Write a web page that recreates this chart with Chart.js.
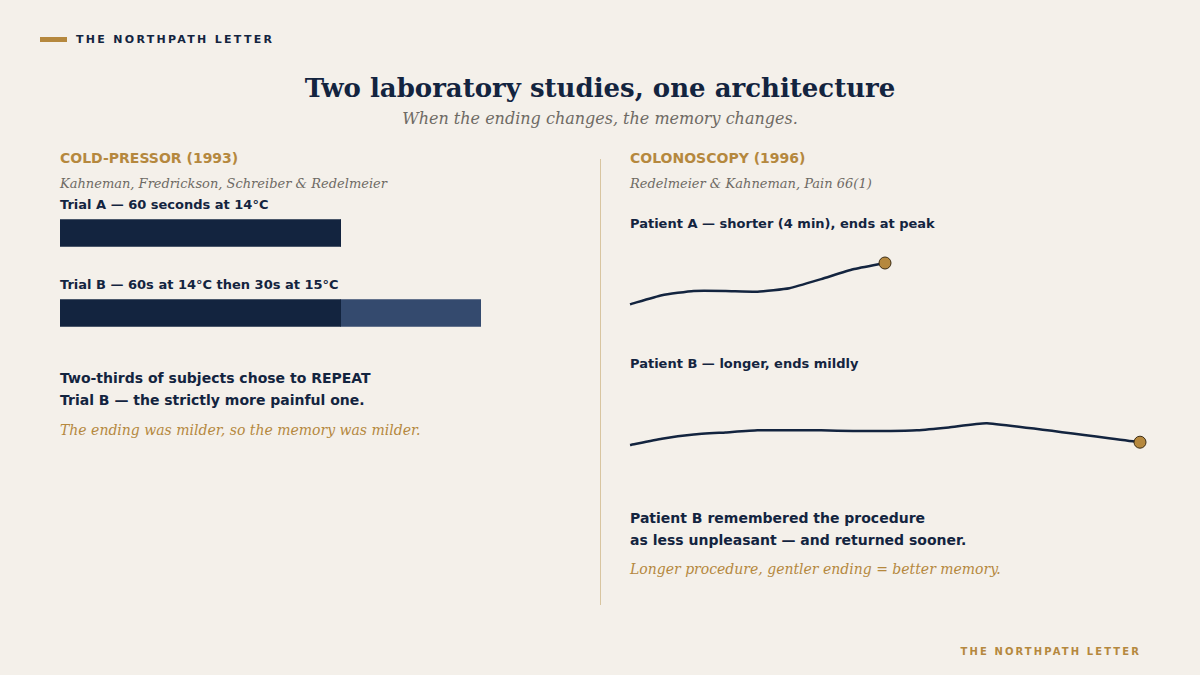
<!DOCTYPE html>
<html>
<head>
<meta charset="utf-8">
<script src="https://cdn.jsdelivr.net/npm/chart.js@4"></script>
<style>
  html, body { margin: 0; padding: 0; }
  body { width: 1200px; height: 675px; background: #f4f0ea; position: relative; overflow: hidden; font-family: "DejaVu Sans", sans-serif; color: #13243f; }
  .t { position: absolute; white-space: nowrap; line-height: 1; }
  .serif { font-family: "DejaVu Serif", serif; }
  .kicker { font-size: 11px; font-weight: bold; letter-spacing: 2.3px; }
  .sec { font-size: 14px; font-weight: bold; color: #b5883e; }
  .cite { font-size: 13px; font-style: italic; color: #6e6a64; }
  .lab { font-size: 13px; font-weight: bold; color: #13243f; }
  .big { font-size: 14px; font-weight: bold; color: #13243f; line-height: 22px; }
  .note { font-size: 14px; font-style: italic; color: #b5883e; }
  canvas { position: absolute; }
</style>
</head>
<body>
<div style="position:absolute;left:40px;top:37px;width:27px;height:5px;background:#b5883e"></div>
<div class="t kicker" style="left:76px;top:34px">THE NORTHPATH LETTER</div>

<div class="t serif" style="left:0;width:1200px;text-align:center;top:75px;font-size:26px;font-weight:bold">Two laboratory studies, one architecture</div>
<div class="t serif" style="left:0;width:1200px;text-align:center;top:111px;font-size:16px;font-style:italic;color:#6e6a64">When the ending changes, the memory changes.</div>

<div style="position:absolute;left:600px;top:159px;width:1px;height:446px;background:#d8c5a0"></div>

<!-- left column -->
<div class="t sec" style="left:60px;top:151px">COLD-PRESSOR (1993)</div>
<div class="t serif cite" style="left:60px;top:177px">Kahneman, Fredrickson, Schreiber &amp; Redelmeier</div>
<div class="t lab" style="left:60px;top:198px">Trial A — 60 seconds at 14°C</div>
<div class="t lab" style="left:60px;top:278px">Trial B — 60s at 14°C then 30s at 15°C</div>
<canvas id="bars" style="left:60px;top:193px;width:421px;height:160px"></canvas>
<div class="t big" style="left:60px;top:367px">Two-thirds of subjects chose to REPEAT<br>Trial B — the strictly more painful one.</div>
<div class="t serif note" style="left:60px;top:423px">The ending was milder, so the memory was milder.</div>

<!-- right column -->
<div class="t sec" style="left:630px;top:151px">COLONOSCOPY (1996)</div>
<div class="t serif cite" style="left:630px;top:177px">Redelmeier &amp; Kahneman, Pain 66(1)</div>
<div class="t lab" style="left:630px;top:217px">Patient A — shorter (4 min), ends at peak</div>
<canvas id="lineA" style="left:620px;top:239px;width:530px;height:90px"></canvas>
<div class="t lab" style="left:630px;top:357px">Patient B — longer, ends mildly</div>
<canvas id="lineB" style="left:620px;top:379px;width:530px;height:90px"></canvas>
<div class="t big" style="left:630px;top:507px">Patient B remembered the procedure<br>as less unpleasant — and returned sooner.</div>
<div class="t serif note" style="left:630px;top:562px">Longer procedure, gentler ending = better memory.</div>

<div class="t kicker" style="right:59px;top:647px;font-size:10px;color:#b5883e;letter-spacing:2.1px">THE NORTHPATH LETTER</div>

<script>
// cold-pressor trials (seconds in water)
const trials = ['Trial A', 'Trial B'];
const secondsAt14 = [60, 60];
const secondsAt15 = [0, 30];

// colonoscopy pain traces (minutes, pain 0-10)
const minutesA = [0, 0.5, 1, 1.5, 2, 2.5, 3, 3.5, 4];
const painA = [2.1, 3.4, 4.0, 4.0, 3.9, 4.4, 5.7, 7.1, 8.0];
const minutesB = [0, 0.5, 1, 1.5, 2, 2.5, 3, 3.5, 4, 4.5, 5, 5.6, 8];
const painB = [2.0, 2.9, 3.5, 3.8, 4.1, 4.1, 4.1, 4.0, 4.0, 4.1, 4.5, 5.1, 2.4];

const NAVY = '#13243f';
const SLATE = '#344a6e';
const GOLD = '#b5883e';

Chart.defaults.animation = false;
Chart.defaults.plugins.legend.display = false;
Chart.defaults.plugins.tooltip.enabled = false;

new Chart(document.getElementById('bars'), {
    type: 'bar',
    data: {
        labels: trials,
        datasets: [
            { label: '14°C', data: secondsAt14, backgroundColor: NAVY, barThickness: 27 },
            { label: '15°C', data: secondsAt15, backgroundColor: SLATE, barThickness: 27 }
        ]
    },
    options: {
        indexAxis: 'y',
        responsive: false,
        maintainAspectRatio: false,
        layout: { padding: 0 },
        scales: {
            x: { stacked: true, min: 0, max: 90, display: false },
            y: { stacked: true, display: false }
        }
    }
});

function traceChart(id, minutes, pain) {
    const last = pain.length - 1;
    return new Chart(document.getElementById(id), {
        type: 'line',
        data: {
            datasets: [{
                data: minutes.map((m, i) => ({ x: m, y: pain[i] })),
                borderColor: NAVY,
                borderWidth: 2.5,
                tension: 0.15,
                pointRadius: ctx => ctx.dataIndex === last ? 6 : 0,
                pointBackgroundColor: GOLD,
                pointBorderColor: '#3b2c14',
                pointBorderWidth: 1,
                clip: false
            }]
        },
        options: {
            responsive: false,
            maintainAspectRatio: false,
            layout: { padding: 10 },
            scales: {
                x: { type: 'linear', min: 0, max: 8, display: false },
                y: { min: 0, max: 10, display: false }
            }
        }
    });
}

traceChart('lineA', minutesA, painA);
traceChart('lineB', minutesB, painB);
</script>
</body>
</html>
